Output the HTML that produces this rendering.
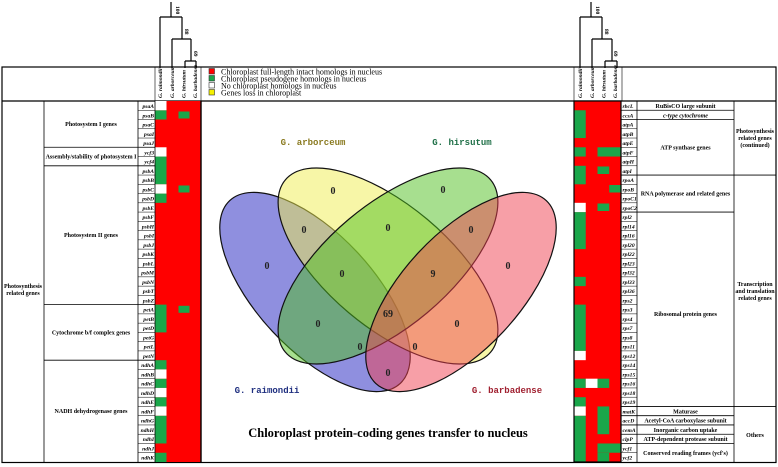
<!DOCTYPE html>
<html><head><meta charset="utf-8"><style>
html,body{margin:0;padding:0;background:#fff}
svg{display:block}
.g{font-family:"Liberation Serif",serif;font-style:italic;font-weight:bold;font-size:5.6px}
.d{font-family:"Liberation Serif",serif;font-weight:bold;font-size:6px}
.lg{font-family:"Liberation Serif",serif;font-size:8px}
.sp{font-family:"Liberation Mono",monospace;font-size:9px;font-weight:bold}
.n{font-family:"Liberation Serif",serif;font-size:10px;font-weight:bold;fill:#222}
</style></head><body>
<svg width="778" height="467" viewBox="0 0 778 467" xmlns="http://www.w3.org/2000/svg">
<rect width="778" height="467" fill="#fff"/>
<g stroke="#000" stroke-width="1.2" fill="none">
<path d="M171,2V17M160,17H182M160,17V76M182,17V39M172,39H191M172,39V76M191,39V61M185,61H196M185,61V76M196,61V76"/>
<path d="M591,2V17M580,17H602M580,17V76M602,17V39M592,39H612M592,39V76M612,39V61M605,61H617M605,61V76M617,61V76"/>
</g>
<g font-family="Liberation Serif,serif" font-size="5.5" font-weight="bold">
<text transform="translate(176,6) rotate(90)">100</text>
<text transform="translate(185,29) rotate(90)">88</text>
<text transform="translate(194,51) rotate(90)">69</text>
<text transform="translate(596,6) rotate(90)">100</text>
<text transform="translate(605,29) rotate(90)">88</text>
<text transform="translate(614,51) rotate(90)">69</text>
</g>
<g stroke="#000" fill="none" stroke-width="1.2">
<rect x="2" y="67" width="774" height="395.5"/>
<line x1="2" y1="101" x2="776" y2="101"/>
</g>
<rect x="155" y="68" width="46" height="32" fill="#fff"/>
<rect x="574" y="68" width="48" height="32" fill="#fff"/>
<g class="g" font-size="5.3">
<text transform="translate(162,98) rotate(-90)">G. raimondii</text>
<text transform="translate(174,98) rotate(-90)">G. arborceum</text>
<text transform="translate(185.5,98) rotate(-90)">G. hirsutum</text>
<text transform="translate(197,98) rotate(-90)">G. barbadense</text>
<text transform="translate(582,98) rotate(-90)">G. raimondii</text>
<text transform="translate(594,98) rotate(-90)">G. arborceum</text>
<text transform="translate(605.5,98) rotate(-90)">G. hirsutum</text>
<text transform="translate(617,98) rotate(-90)">G. barbadense</text>
</g>
<g stroke="#000" stroke-width="0.6" fill="none">
<line x1="155" y1="67" x2="155" y2="101"/><line x1="201" y1="67" x2="201" y2="101"/>
<line x1="574" y1="67" x2="574" y2="101"/><line x1="622" y1="67" x2="622" y2="101"/>
</g>
<g stroke="#333" stroke-width="0.6">
<rect x="209" y="68.5" width="5.5" height="5.5" fill="#f00"/>
<rect x="209" y="75.5" width="5.5" height="5.5" fill="#1aa64a"/>
<rect x="209" y="82.5" width="5.5" height="5.5" fill="#fff"/>
<rect x="209" y="89.5" width="5.5" height="5.5" fill="#f5f000"/>
</g>
<g class="lg">
<text x="221" y="74.5">Chloroplast full-length intact homologs in nucleus</text>
<text x="221" y="81.5">Chloroplast pseudogene homologs in nucleus</text>
<text x="221" y="88.5">No chloroplast homologs in nucleus</text>
<text x="221" y="95.5">Genes loss in chloroplast</text>
</g>

<rect x="155" y="101" width="46" height="361" fill="#f00"/>
<g fill="#1aa64a">
<rect x="155" y="110.26" width="11.5" height="9.26"/>
<rect x="155" y="156.54" width="11.5" height="27.76"/>
<rect x="155" y="193.56" width="11.5" height="9.26"/>
<rect x="155" y="304.63" width="11.5" height="27.77"/>
<rect x="155" y="360.17" width="11.5" height="9.25"/>
<rect x="155" y="378.68" width="11.5" height="9.26"/>
<rect x="155" y="397.19" width="11.5" height="9.26"/>
<rect x="155" y="415.70" width="11.5" height="27.77"/>
<rect x="155" y="452.74" width="11.5" height="9.26"/>
<rect x="178.5" y="111.5" width="11" height="7"/>
<rect x="178.5" y="185.5" width="11" height="7"/>
<rect x="178.5" y="305.8" width="11" height="7"/>
</g>
<g fill="#fff">
<rect x="155" y="101" width="11.5" height="9.26"/>
<rect x="155" y="147.28" width="11.5" height="9.26"/>
<rect x="155" y="184.30" width="11.5" height="9.26"/>
<rect x="155" y="369.42" width="11.5" height="9.26"/>
<rect x="155" y="387.94" width="11.5" height="9.25"/>
<rect x="155" y="406.45" width="11.5" height="9.25"/>
</g>
<g stroke="#000" stroke-width="0.8" fill="none">
<line x1="44" y1="101" x2="44" y2="462"/>
<line x1="138" y1="101" x2="138" y2="462"/>
<line x1="155" y1="101" x2="155" y2="462"/>
<line x1="201" y1="101" x2="201" y2="462" stroke-width="1.4"/>
<line x1="44" y1="147.28" x2="155" y2="147.28"/>
<line x1="44" y1="165.79" x2="155" y2="165.79"/>
<line x1="44" y1="304.63" x2="155" y2="304.63"/>
<line x1="44" y1="360.17" x2="155" y2="360.17"/>
</g>
<g stroke="#000" stroke-width="0.5">
<path d="M138,110.26H155M138,119.51H155M138,128.77H155M138,138.03H155M138,156.54H155M138,175.05H155M138,184.30H155M138,193.56H155M138,202.82H155M138,212.07H155M138,221.33H155M138,230.58H155M138,239.84H155M138,249.10H155M138,258.35H155M138,267.61H155M138,276.86H155M138,286.12H155M138,295.38H155M138,313.89H155M138,323.14H155M138,332.40H155M138,341.66H155M138,350.91H155M138,369.42H155M138,378.68H155M138,387.94H155M138,397.19H155M138,406.45H155M138,415.70H155M138,424.96H155M138,434.22H155M138,443.47H155M138,452.74H155"/>
</g>
<g class="g" text-anchor="end">
<text x="154" y="108">psaA</text><text x="154" y="117.3">psaB</text><text x="154" y="126.5">psaC</text><text x="154" y="135.8">psaI</text><text x="154" y="145">psaJ</text>
<text x="154" y="154.3">ycf3</text><text x="154" y="163.5">ycf4</text>
<text x="154" y="172.8">psbA</text><text x="154" y="182">psbB</text><text x="154" y="191.3">psbC</text><text x="154" y="200.6">psbD</text><text x="154" y="209.8">psbE</text><text x="154" y="219.1">psbF</text><text x="154" y="228.3">psbH</text><text x="154" y="237.6">psbI</text><text x="154" y="246.8">psbJ</text><text x="154" y="256.1">psbK</text><text x="154" y="265.4">psbL</text><text x="154" y="274.6">psbM</text><text x="154" y="283.9">psbN</text><text x="154" y="293.1">psbT</text><text x="154" y="302.4">psbZ</text>
<text x="154" y="311.6">petA</text><text x="154" y="320.9">petB</text><text x="154" y="330.1">petD</text><text x="154" y="339.4">petG</text><text x="154" y="348.7">petL</text><text x="154" y="357.9">petN</text>
<text x="154" y="367.2">ndhA</text><text x="154" y="376.4">ndhB</text><text x="154" y="385.7">ndhC</text><text x="154" y="394.9">ndhD</text><text x="154" y="404.2">ndhE</text><text x="154" y="413.5">ndhF</text><text x="154" y="422.7">ndhG</text><text x="154" y="432">ndhH</text><text x="154" y="441.2">ndhI</text><text x="154" y="450.5">ndhJ</text><text x="154" y="459.7">ndhK</text>
</g>
<g class="d" text-anchor="middle">
<text x="91" y="126">Photosystem I genes</text>
<text x="91" y="158.5">Assembly/stability of photosystem I</text>
<text x="91" y="237">Photosystem II genes</text>
<text x="91" y="334.5">Cytochrome b/f complex genes</text>
<text x="91" y="413">NADH dehydrogenase genes</text>
<text x="23" y="288">Photosynthesis</text>
<text x="23" y="295">related genes</text>
</g>

<rect x="574" y="101" width="47" height="361" fill="#f00"/>
<g fill="#1aa64a">
<rect x="574" y="110.26" width="11.75" height="27.77"/>
<rect x="574" y="147.28" width="11.75" height="9.26"/>
<rect x="574" y="165.79" width="11.75" height="18.51"/>
<rect x="574" y="212.07" width="11.75" height="37.03"/>
<rect x="574" y="276.86" width="11.75" height="9.26"/>
<rect x="574" y="304.63" width="11.75" height="46.28"/>
<rect x="574" y="378.68" width="11.75" height="9.26"/>
<rect x="574" y="397.19" width="11.75" height="9.26"/>
<rect x="574" y="415.70" width="11.75" height="46.3"/>
<rect x="597.5" y="147.28" width="23.5" height="9.26"/>
<rect x="597.5" y="166.5" width="11.75" height="7.5"/>
<rect x="609.25" y="185" width="11.75" height="7.5"/>
<rect x="597.5" y="203.5" width="11.75" height="7.5"/>
<rect x="597.5" y="378.68" width="11.75" height="9.26"/>
<rect x="597.5" y="406.45" width="11.75" height="27.77"/>
<rect x="597.5" y="443.47" width="23.5" height="9.27"/>
<rect x="597.5" y="452.74" width="11.75" height="9.26"/>
</g>
<g fill="#fff">
<rect x="574" y="202.82" width="11.75" height="9.25"/>
<rect x="574" y="350.91" width="11.75" height="9.26"/>
<rect x="585.75" y="378.68" width="11.75" height="9.26"/>
<rect x="574" y="406.45" width="11.75" height="9.25"/>
</g>
<rect x="574" y="101" width="47" height="361" fill="none" stroke="#000" stroke-width="1.2"/>
<g stroke="#000" stroke-width="0.8" fill="none">
<line x1="637" y1="101" x2="637" y2="462"/>
<line x1="734" y1="101" x2="734" y2="462"/>
<line x1="621" y1="110.26" x2="734" y2="110.26"/>
<line x1="621" y1="119.51" x2="734" y2="119.51"/>
<line x1="621" y1="175.05" x2="776" y2="175.05"/>
<line x1="621" y1="212.07" x2="734" y2="212.07"/>
<line x1="621" y1="406.45" x2="776" y2="406.45"/>
<line x1="621" y1="415.70" x2="734" y2="415.70"/>
<line x1="621" y1="424.96" x2="734" y2="424.96"/>
<line x1="621" y1="434.22" x2="734" y2="434.22"/>
<line x1="621" y1="443.47" x2="734" y2="443.47"/>
</g>
<g stroke="#000" stroke-width="0.5">
<path d="M621,128.77H637M621,138.03H637M621,147.28H637M621,156.54H637M621,165.79H637M621,184.30H637M621,193.56H637M621,202.82H637M621,221.33H637M621,230.58H637M621,239.84H637M621,249.10H637M621,258.35H637M621,267.61H637M621,276.86H637M621,286.12H637M621,295.38H637M621,304.63H637M621,313.89H637M621,323.14H637M621,332.40H637M621,341.66H637M621,350.91H637M621,360.17H637M621,369.42H637M621,378.68H637M621,387.94H637M621,397.19H637M621,452.74H637"/>
</g>
<g class="g">
<text x="622.5" y="108">rbcL</text><text x="622.5" y="117.3">ccsA</text>
<text x="622.5" y="126.5">atpA</text><text x="622.5" y="135.8">atpB</text><text x="622.5" y="145">atpE</text><text x="622.5" y="154.3">atpF</text><text x="622.5" y="163.5">atpH</text><text x="622.5" y="172.8">atpI</text>
<text x="622.5" y="182">rpoA</text><text x="622.5" y="191.3">rpoB</text><text x="622.5" y="200.6">rpoC1</text><text x="622.5" y="209.8">rpoC2</text>
<text x="622.5" y="219.1">rpl2</text><text x="622.5" y="228.3">rpl14</text><text x="622.5" y="237.6">rpl16</text><text x="622.5" y="246.8">rpl20</text><text x="622.5" y="256.1">rpl22</text><text x="622.5" y="265.4">rpl23</text><text x="622.5" y="274.6">rpl32</text><text x="622.5" y="283.9">rpl33</text><text x="622.5" y="293.1">rpl36</text>
<text x="622.5" y="302.4">rps2</text><text x="622.5" y="311.6">rps3</text><text x="622.5" y="320.9">rps4</text><text x="622.5" y="330.1">rps7</text><text x="622.5" y="339.4">rps8</text><text x="622.5" y="348.7">rps11</text><text x="622.5" y="357.9">rps12</text><text x="622.5" y="367.2">rps14</text><text x="622.5" y="376.4">rps15</text><text x="622.5" y="385.7">rps16</text><text x="622.5" y="394.9">rps18</text><text x="622.5" y="404.2">rps19</text>
<text x="622.5" y="413.5">matK</text><text x="622.5" y="422.7">accD</text><text x="622.5" y="432">cemA</text><text x="622.5" y="441.2">clpP</text><text x="622.5" y="450.5">ycf1</text><text x="622.5" y="459.7">ycf2</text>
</g>
<g class="d" text-anchor="middle">
<text x="685.5" y="108">RuBisCO large subunit</text>
<text x="685.5" y="117.3" font-style="italic">c-type cytochrome</text>
<text x="685.5" y="149.5">ATP synthase genes</text>
<text x="685.5" y="195.5">RNA polymerase and related genes</text>
<text x="685.5" y="316">Ribosomal protein genes</text>
<text x="685.5" y="413.5">Maturase</text>
<text x="685.5" y="422.7">Acetyl-CoA carboxylase subunit</text>
<text x="685.5" y="432">Inorganic carbon uptake</text>
<text x="685.5" y="441.2">ATP-dependent protease subunit</text>
<text x="685.5" y="455">Conserved reading frames (ycf's)</text>
<text x="755" y="133">Photosynthesis</text>
<text x="755" y="140">related genes</text>
<text x="755" y="147">(continued)</text>
<text x="755" y="286">Transcription</text>
<text x="755" y="293">and translation</text>
<text x="755" y="300">related genes</text>
<text x="755" y="437">Others</text>
</g>

<g stroke="#111" stroke-width="1.2">
<ellipse cx="315" cy="292" rx="125" ry="58" transform="rotate(47 315 292)" fill="#2020c0" fill-opacity="0.5"/>
<ellipse cx="388" cy="266" rx="134" ry="61" transform="rotate(40 388 266)" fill="#f0ee50" fill-opacity="0.5"/>
<ellipse cx="388" cy="266" rx="134" ry="61" transform="rotate(-40 388 266)" fill="#50c020" fill-opacity="0.5"/>
<ellipse cx="461" cy="292" rx="125" ry="58" transform="rotate(-47 461 292)" fill="#f04050" fill-opacity="0.5"/>
</g>
<g class="sp" text-anchor="middle">
<text x="313" y="145" fill="#8a7a20">G. arborceum</text>
<text x="462" y="145" fill="#207048">G. hirsutum</text>
<text x="267" y="393" fill="#203080">G. raimondii</text>
<text x="507" y="393" fill="#a02030">G. barbadense</text>
</g>
<g class="n" text-anchor="middle">
<text x="333" y="194">0</text><text x="443" y="193">0</text>
<text x="304" y="233">0</text><text x="388" y="231">0</text><text x="471" y="233">0</text>
<text x="267" y="269">0</text><text x="342" y="277">0</text><text x="433" y="277">9</text><text x="508" y="269">0</text>
<text x="388" y="317">69</text>
<text x="318" y="327">0</text><text x="457" y="327">0</text>
<text x="360" y="350">0</text><text x="415" y="350">0</text>
<text x="388" y="376">0</text>
</g>
<text x="388" y="437" text-anchor="middle" font-family="Liberation Serif,serif" font-weight="bold" font-size="12.5">Chloroplast protein-coding genes transfer to nucleus</text>
</svg>
</body></html>
